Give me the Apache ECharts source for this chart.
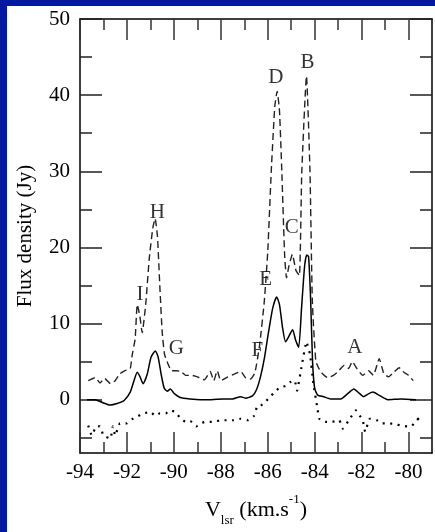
<!DOCTYPE html>
<html>
<head>
<meta charset="utf-8">
<script src="https://cdn.jsdelivr.net/npm/echarts@6/dist/echarts.min.js"></script>
<style>
html,body{margin:0;padding:0;background:#0019a0;}
#chart{position:absolute;left:7px;top:6px;width:428px;height:526px;background:#fff;}
</style>
</head>
<body>
<div id="chart"></div>
<script>
// ---- data ----
const solidV = [-93.7,-93.36,-93.02,-92.72,-92.42,-92.12,-91.86,-91.69,-91.56,-91.44,-91.31,-91.14,-90.97,-90.79,-90.67,-90.54,-90.41,-90.28,-90.15,-89.98,-89.73,-89.3,-88.87,-88.4,-87.9,-87.5,-87.16,-86.95,-86.65,-86.48,-86.31,-86.14,-85.97,-85.79,-85.62,-85.5,-85.37,-85.24,-85.07,-84.94,-84.81,-84.68,-84.56,-84.43,-84.34,-84.26,-84.17,-84.09,-84.0,-83.87,-83.62,-83.32,-82.89,-82.59,-82.33,-82.12,-81.91,-81.69,-81.52,-81.26,-80.88,-80.32,-79.68];
const solidF = [0.0,0.0,-0.4,-0.7,-0.5,-0.1,1.0,2.6,3.6,3.0,2.1,3.3,5.6,6.4,5.6,3.3,1.5,1.1,1.4,0.8,0.3,0.1,0.0,0.0,0.1,0.1,0.4,0.2,0.5,1.3,3.0,5.5,8.8,12.0,13.5,12.5,9.5,7.6,8.5,9.2,7.8,6.9,12.0,17.5,19.0,18.8,13.0,5.0,1.5,0.6,0.4,0.1,0.1,0.8,1.4,0.9,0.4,0.8,1.0,0.6,0.0,0.1,0.0];

const dashedV = [-93.65,-93.35,-93.15,-92.95,-92.7,-92.5,-92.3,-92.1,-91.86,-91.78,-91.65,-91.56,-91.45,-91.35,-91.2,-91.05,-90.9,-90.8,-90.7,-90.6,-90.5,-90.4,-90.25,-90.1,-89.9,-89.7,-89.5,-89.25,-89.0,-88.7,-88.45,-88.3,-88.15,-88.0,-87.7,-87.4,-87.15,-86.95,-86.75,-86.55,-86.35,-86.15,-86.0,-85.85,-85.7,-85.6,-85.5,-85.4,-85.28,-85.2,-85.1,-84.95,-84.8,-84.65,-84.55,-84.35,-84.2,-84.1,-83.95,-83.75,-83.45,-83.2,-83.0,-82.75,-82.55,-82.4,-82.2,-81.95,-81.7,-81.5,-81.25,-81.05,-80.85,-80.6,-80.4,-80.2,-80.0,-79.8];
const dashedF = [2.5,2.9,2.2,2.8,2.1,2.5,3.4,3.8,4.1,5.8,8.0,12.5,11.0,8.8,12.5,18.5,22.5,23.8,21.5,15.0,9.0,6.0,4.7,3.8,3.8,3.7,3.2,3.2,3.0,2.6,3.7,2.5,3.8,2.5,3.0,3.4,3.7,2.9,2.7,3.5,7.1,12.8,19.4,30.0,38.5,40.5,38.0,30.0,19.0,16.0,17.5,19.1,17.0,16.3,29.8,42.5,30.0,13.0,5.1,3.7,2.9,3.2,3.7,4.5,4.1,5.0,4.1,3.2,3.8,3.2,5.4,3.4,3.0,3.7,4.2,3.6,3.2,2.5];

const dottedV = [-93.65,-93.5,-93.3,-93.15,-93.0,-92.7,-92.6,-92.5,-92.3,-92.0,-91.75,-91.55,-91.3,-91.0,-90.8,-90.6,-90.35,-90.15,-89.95,-89.7,-89.5,-89.3,-89.05,-88.85,-88.65,-88.3,-88.0,-87.7,-87.45,-87.15,-86.85,-86.6,-86.45,-86.3,-86.1,-85.9,-85.7,-85.5,-85.25,-85.05,-84.85,-84.75,-84.55,-84.35,-84.2,-84.05,-83.9,-83.8,-83.55,-83.25,-82.95,-82.8,-82.5,-82.25,-82.1,-81.95,-81.85,-81.65,-81.35,-81.15,-80.85,-80.6,-80.3,-80.05,-79.85,-79.65,-79.55];
const dottedF = [-3.4,-4.7,-3.5,-3.5,-4.7,-5.1,-3.5,-4.7,-3.1,-3.1,-2.5,-2.2,-1.8,-1.6,-2.1,-1.8,-1.8,-1.4,-1.6,-2.5,-2.9,-2.8,-3.5,-3.1,-2.9,-2.9,-2.7,-2.7,-2.7,-2.5,-2.7,-2.2,-0.9,-0.8,-0.3,0.4,1.0,1.6,1.8,2.3,2.5,1.2,4.5,7.6,6.0,2.0,-0.8,-2.5,-2.9,-2.9,-2.7,-3.8,-2.5,-1.4,-2.0,-2.7,-4.2,-2.5,-2.7,-3.1,-3.1,-3.2,-3.4,-3.5,-3.4,-2.7,-2.4];

// peak labels (letter, velocity, flux)
const peakNames = ['D','B','H','C','I','E','G','F','A'];
const peakV = [-85.65,-84.3,-90.7,-84.98,-91.44,-86.09,-89.9,-86.44,-82.29];
const peakF = [42.3,44.3,24.6,22.6,13.8,15.8,6.7,6.4,6.9];

// axis ticks
const xMajor = [-94,-92,-90,-88,-86,-84,-82,-80];
const xMinor = [-93,-91,-89,-87,-85,-83,-81];
const yMajor = [0,10,20,30,40,50];
const yMinor = [-5,5,15,25,35,45];

const pairs = (a, b) => a.map((v, i) => [v, b[i]]);

const FONT = '"Liberation Serif", "DejaVu Serif", serif';
const TXT = '#000';
const AX = '#000';

function xAx(pos, ticks, len, labels, line) {
  return {
    type: 'value', position: pos, min: -94, max: -79,
    axisLine: { show: line, onZero: false, lineStyle: { color: AX, width: 1.5 } },
    axisTick: { show: true, inside: true, length: len, customValues: ticks, lineStyle: { color: '#333', width: 1.5 } },
    axisLabel: { show: labels, customValues: ticks, margin: 9, fontFamily: FONT, fontSize: 21, color: TXT },
    splitLine: { show: false }
  };
}
function yAx(pos, ticks, len, labels, line) {
  return {
    type: 'value', position: pos, min: -7, max: 50,
    axisLine: { show: line, onZero: false, lineStyle: { color: AX, width: 1.5 } },
    axisTick: { show: true, inside: true, length: len, customValues: ticks, lineStyle: { color: '#222', width: 1.5 } },
    axisLabel: { show: labels, customValues: ticks, margin: 10, fontFamily: FONT, fontSize: 21, color: TXT },
    splitLine: { show: false }
  };
}

const xAxes = [xAx('bottom', xMajor, 21, true, true), xAx('bottom', xMinor, 11, false, false),
               xAx('top', xMajor, 21, false, true), xAx('top', xMinor, 11, false, false)];
xAxes[0].name = '{v|V}{sub|lsr}{n| (km.s}{sup|-1}{n|)}';
xAxes[0].nameLocation = 'middle';
xAxes[0].nameGap = 40;
xAxes[0].nameTextStyle = {
  fontFamily: FONT, color: TXT,
  rich: {
    v: { fontFamily: FONT, fontSize: 22, color: TXT, verticalAlign: 'bottom', lineHeight: 28 },
    n: { fontFamily: FONT, fontSize: 22, color: TXT, verticalAlign: 'bottom', lineHeight: 28 },
    sub: { fontFamily: FONT, fontSize: 13, color: TXT, verticalAlign: 'bottom', lineHeight: 22, padding: [0, 0, -6, 0] },
    sup: { fontFamily: FONT, fontSize: 13, color: TXT, verticalAlign: 'top', lineHeight: 28 }
  }
};

const yAxes = [yAx('left', yMajor, 22, true, true), yAx('left', yMinor, 12, false, false),
               yAx('right', yMajor, 22, false, true), yAx('right', yMinor, 12, false, false)];
yAxes[0].name = 'Flux density (Jy)';
yAxes[0].nameLocation = 'middle';
yAxes[0].nameGap = 44;
yAxes[0].nameTextStyle = { fontFamily: FONT, fontSize: 21, color: TXT };

const chart = echarts.init(document.getElementById('chart'), null, { renderer: 'canvas' });
chart.setOption({
  backgroundColor: '#ffffff',
  animation: false,
  grid: { left: 73, right: 3, top: 13, bottom: 77, containLabel: false },
  xAxis: xAxes,
  yAxis: yAxes,
  series: [
    { type: 'line', data: pairs(dashedV, dashedF), showSymbol: false, smooth: 0.15,
      lineStyle: { color: '#222', width: 1.4, type: [7, 4] }, z: 3 },
    { type: 'line', data: pairs(solidV, solidF), showSymbol: false, smooth: 0.2,
      lineStyle: { color: '#000', width: 1.5 }, z: 4 },
    { type: 'line', data: pairs(dottedV, dottedF), showSymbol: false, smooth: 0.1,
      lineStyle: { color: '#000', width: 2.2, type: [2, 5.5] }, z: 3 },
    { type: 'scatter', data: pairs(peakV, peakF), symbolSize: 1, itemStyle: { color: 'rgba(0,0,0,0)' },
      label: { show: true, position: 'inside', formatter: p => peakNames[p.dataIndex],
               fontFamily: FONT, fontSize: 21, color: TXT }, z: 5 }
  ]
});
</script>
</body>
</html>
